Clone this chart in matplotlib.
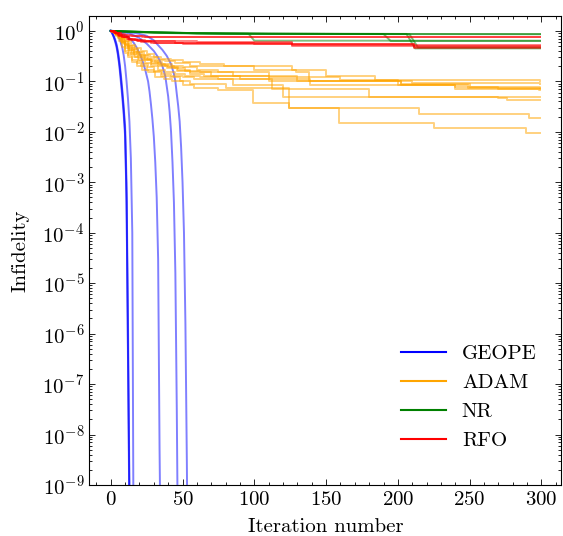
import matplotlib
matplotlib.use('Agg')
import matplotlib.pyplot as plt
from matplotlib.lines import Line2D
from matplotlib.ticker import MultipleLocator, LogLocator, NullFormatter

# GEOPE runs (smooth curves): (iteration, infidelity)
geope_runs = [
    ([0, 1, 2, 3, 4, 5, 6, 7, 8, 9, 10, 11, 12, 13, 14],
     [1, 0.9, 0.78, 0.65, 0.52, 0.36, 0.22, 0.12, 0.06, 0.027, 0.01, 5e-4, 5e-7, 5e-10, 1e-13]),
    ([0, 1, 2, 3, 4, 5, 6, 7, 8, 9, 10, 11, 12, 13, 14],
     [1, 0.92, 0.8, 0.68, 0.55, 0.4, 0.25, 0.14, 0.07, 0.032, 0.013, 1e-3, 2e-6, 1e-9, 1e-12]),
    ([0, 1, 2, 3, 4, 5, 6, 7, 8, 9, 10, 11, 12, 13, 14],
     [1, 0.89, 0.76, 0.62, 0.48, 0.33, 0.2, 0.1, 0.05, 0.022, 0.008, 4e-4, 3e-7, 2e-10, 1e-13]),
    ([0, 2, 4, 6, 8, 9, 10, 11, 12, 13, 14, 15, 16],
     [1, 0.98, 0.89, 0.72, 0.47, 0.33, 0.2, 0.1, 0.045, 0.016, 3e-3, 1e-4, 1e-11]),
    ([0, 3, 6, 9, 12, 14, 16, 18, 20, 22, 24, 26, 27, 28, 29, 30, 31, 32, 33, 34, 35],
     [1, 0.98, 0.93, 0.85, 0.76, 0.68, 0.58, 0.47, 0.36, 0.26, 0.17, 0.1, 0.063, 0.035,
      0.018, 8e-3, 2.5e-3, 5e-4, 3e-5, 5e-9, 1e-11]),
    ([0, 5, 10, 15, 20, 25, 30, 33, 36, 38, 40, 41, 42, 43, 44, 45, 46, 47],
     [1, 0.98, 0.93, 0.85, 0.72, 0.56, 0.4, 0.3, 0.2, 0.126, 0.05, 0.025, 0.01, 2.5e-3,
      4e-4, 1.6e-5, 3e-8, 1e-11]),
    ([0, 5, 10, 15, 20, 25, 30, 33, 36, 39, 42, 44, 45, 46, 47, 48, 49, 50, 51, 52, 53, 54],
     [1, 0.99, 0.965, 0.93, 0.87, 0.8, 0.65, 0.52, 0.42, 0.32, 0.22, 0.14, 0.1, 0.056,
      0.032, 0.016, 5e-3, 1e-3, 1e-4, 1.6e-6, 3e-9, 1e-12]),
]

# ADAM runs (staircase, change points)
adam_runs = [
    ([0, 2, 4, 6, 8, 11, 14, 17, 21, 25, 30, 35, 42, 50, 62, 79, 126, 150, 184, 299],
     [1, 0.95, 0.88, 0.8, 0.72, 0.62, 0.52, 0.46, 0.4, 0.35, 0.31, 0.28, 0.26, 0.24,
      0.22, 0.2, 0.17, 0.13, 0.105, 0.1]),
    ([0, 1, 3, 5, 7, 10, 13, 16, 19, 23, 27, 32, 38, 45, 55, 100, 129, 138, 210, 299],
     [1, 0.96, 0.9, 0.82, 0.73, 0.6, 0.5, 0.44, 0.39, 0.34, 0.3, 0.27, 0.25, 0.23, 0.2,
      0.17, 0.15, 0.1, 0.092, 0.089]),
    ([0, 2, 4, 6, 9, 12, 15, 18, 22, 26, 31, 36, 43, 50, 60, 75, 110, 160, 200, 240, 299],
     [1, 0.94, 0.86, 0.78, 0.64, 0.5, 0.42, 0.37, 0.32, 0.28, 0.24, 0.22, 0.2, 0.19,
      0.17, 0.15, 0.12, 0.105, 0.085, 0.078, 0.075]),
    ([0, 3, 5, 7, 10, 12, 15, 18, 21, 25, 29, 34, 40, 47, 55, 70, 110, 202, 250, 270, 299],
     [1, 0.9, 0.8, 0.7, 0.52, 0.45, 0.38, 0.33, 0.29, 0.26, 0.23, 0.21, 0.19, 0.17,
      0.15, 0.13, 0.1, 0.09, 0.078, 0.072, 0.072]),
    ([0, 1, 3, 5, 8, 10, 13, 16, 19, 23, 28, 33, 39, 46, 55, 65, 90, 139, 240, 298, 299],
     [1, 0.97, 0.88, 0.76, 0.6, 0.5, 0.41, 0.35, 0.3, 0.26, 0.22, 0.2, 0.18, 0.16,
      0.14, 0.13, 0.11, 0.085, 0.072, 0.068, 0.068]),
    ([0, 2, 4, 7, 9, 12, 14, 17, 20, 24, 28, 33, 38, 45, 52, 62, 75, 112, 180, 299],
     [1, 0.92, 0.82, 0.66, 0.54, 0.42, 0.35, 0.3, 0.27, 0.23, 0.2, 0.17, 0.155, 0.14,
      0.13, 0.12, 0.11, 0.07, 0.05, 0.05]),
    ([0, 2, 4, 6, 8, 10, 13, 16, 19, 22, 26, 30, 36, 42, 50, 58, 85, 120, 270, 276, 299],
     [1, 0.93, 0.84, 0.72, 0.58, 0.46, 0.36, 0.3, 0.25, 0.22, 0.19, 0.16, 0.14, 0.13,
      0.12, 0.11, 0.085, 0.05, 0.046, 0.043, 0.043]),
    ([0, 1, 3, 5, 7, 10, 12, 15, 18, 21, 25, 30, 35, 41, 48, 55, 80, 124, 215, 291, 299],
     [1, 0.96, 0.86, 0.72, 0.6, 0.4, 0.33, 0.27, 0.23, 0.2, 0.17, 0.15, 0.13, 0.12,
      0.1, 0.09, 0.075, 0.03, 0.023, 0.019, 0.019]),
    ([0, 2, 4, 6, 8, 10, 12, 15, 18, 22, 26, 31, 37, 43, 50, 58, 75, 99, 124, 159, 225, 289, 299],
     [1, 0.9, 0.78, 0.62, 0.48, 0.36, 0.3, 0.24, 0.2, 0.17, 0.15, 0.12, 0.11, 0.1,
      0.085, 0.075, 0.068, 0.037, 0.029, 0.015, 0.012, 0.0094, 0.0094]),
    ([0, 3, 5, 8, 10, 13, 16, 20, 24, 28, 33, 38, 44, 52, 62, 85, 130, 202, 249, 299],
     [1, 0.9, 0.8, 0.64, 0.55, 0.45, 0.39, 0.33, 0.28, 0.25, 0.22, 0.2, 0.18, 0.16,
      0.15, 0.13, 0.1, 0.085, 0.075, 0.073]),
]

# NR runs (plain lines)
nr_runs = [
    ([0, 5, 10, 20, 30, 45, 60, 80, 110, 150, 200, 299],
     [1, 0.99, 0.98, 0.96, 0.94, 0.92, 0.9, 0.89, 0.88, 0.875, 0.87, 0.865]),
    ([0, 5, 10, 20, 30, 45, 60, 80, 110, 150, 200, 299],
     [1, 0.99, 0.975, 0.955, 0.935, 0.915, 0.9, 0.885, 0.875, 0.87, 0.865, 0.86]),
    ([0, 5, 10, 20, 30, 45, 60, 80, 110, 150, 190, 195, 299],
     [1, 0.985, 0.97, 0.95, 0.93, 0.91, 0.895, 0.885, 0.875, 0.87, 0.865, 0.63, 0.63]),
    ([0, 5, 10, 20, 30, 45, 60, 80, 110, 150, 206, 212, 299],
     [1, 0.99, 0.98, 0.96, 0.94, 0.92, 0.9, 0.89, 0.88, 0.875, 0.87, 0.45, 0.45]),
    ([0, 5, 10, 20, 30, 45, 60, 80, 96, 100, 299],
     [1, 0.98, 0.965, 0.94, 0.92, 0.9, 0.89, 0.88, 0.875, 0.64, 0.64]),
    ([0, 5, 10, 20, 30, 45, 60, 80, 110, 150, 208, 214, 299],
     [1, 0.985, 0.975, 0.955, 0.935, 0.915, 0.9, 0.885, 0.875, 0.87, 0.865, 0.47, 0.47]),
]

# RFO runs (staircase, change points)
rfo_runs = [
    ([0, 2, 4, 7, 10, 15, 22, 40, 99, 299],
     [1, 0.96, 0.9, 0.85, 0.82, 0.79, 0.77, 0.76, 0.75, 0.75]),
    ([0, 2, 4, 7, 11, 16, 24, 45, 110, 299],
     [1, 0.95, 0.89, 0.84, 0.8, 0.78, 0.76, 0.75, 0.74, 0.74]),
    ([0, 2, 4, 6, 9, 13, 18, 26, 60, 126, 299],
     [1, 0.94, 0.87, 0.8, 0.74, 0.68, 0.64, 0.62, 0.6, 0.53, 0.53]),
    ([0, 1, 3, 5, 8, 12, 17, 24, 45, 100, 211, 299],
     [1, 0.96, 0.9, 0.83, 0.76, 0.7, 0.66, 0.62, 0.58, 0.56, 0.49, 0.49]),
    ([0, 2, 5, 8, 11, 15, 21, 30, 126, 299],
     [1, 0.92, 0.83, 0.76, 0.7, 0.65, 0.6, 0.57, 0.51, 0.51]),
    ([0, 3, 6, 9, 13, 19, 28, 50, 211, 299],
     [1, 0.9, 0.81, 0.74, 0.67, 0.62, 0.58, 0.55, 0.46, 0.46]),
]

methods = ['GEOPE', 'ADAM', 'NR', 'RFO']
colors = ['blue', 'orange', 'green', 'red']

plt.rcParams.update({
    'font.family': 'serif',
    'font.serif': ['cmr10'],
    'mathtext.fontset': 'cm',
    'axes.formatter.use_mathtext': True,
    'font.size': 15,
    'axes.linewidth': 0.8,
    'xtick.direction': 'in',
    'ytick.direction': 'in',
    'xtick.top': True,
    'ytick.right': True,
    'xtick.major.size': 4,
    'ytick.major.size': 4,
    'xtick.minor.size': 2,
    'ytick.minor.size': 2,
    'xtick.major.width': 0.6,
    'ytick.major.width': 0.6,
    'xtick.minor.width': 0.6,
    'ytick.minor.width': 0.6,
    'xtick.major.pad': 4.5,
})

fig = plt.figure(figsize=(5.63, 5.36), dpi=100)
ax = fig.add_axes([0.1586, 0.0951, 0.8387, 0.8756])

lw = 1.4
for it, val in geope_runs:
    ax.plot(it, val, color=colors[0], alpha=0.5, lw=lw)
for it, val in adam_runs:
    ax.plot(it, val, color=colors[1], alpha=0.5, lw=lw, drawstyle='steps-post')
for it, val in nr_runs:
    ax.plot(it, val, color=colors[2], alpha=0.5, lw=lw)
for it, val in rfo_runs:
    ax.plot(it, val, color=colors[3], alpha=0.5, lw=lw, drawstyle='steps-post')

ax.set_yscale('log')
ax.set_xlim(-14.95, 313.95)
ax.set_ylim(1e-9, 2)
ax.xaxis.set_major_locator(MultipleLocator(50))
ax.xaxis.set_minor_locator(MultipleLocator(10))
ax.yaxis.set_major_locator(LogLocator(base=10, numticks=20))
ax.yaxis.set_minor_locator(LogLocator(base=10, subs=(2, 3, 4, 5, 6, 7, 8, 9), numticks=20))
ax.yaxis.set_minor_formatter(NullFormatter())

ax.set_xlabel('Iteration number', labelpad=6)
ax.set_ylabel('Infidelity', labelpad=9)

handles = [Line2D([], [], color=c, lw=1.5) for c in colors]
ax.legend(handles, methods, loc='lower right', frameon=False,
          bbox_to_anchor=(0.987, 0.035), handlelength=2.15, handletextpad=0.77)

fig.savefig('out.png', dpi=100)
